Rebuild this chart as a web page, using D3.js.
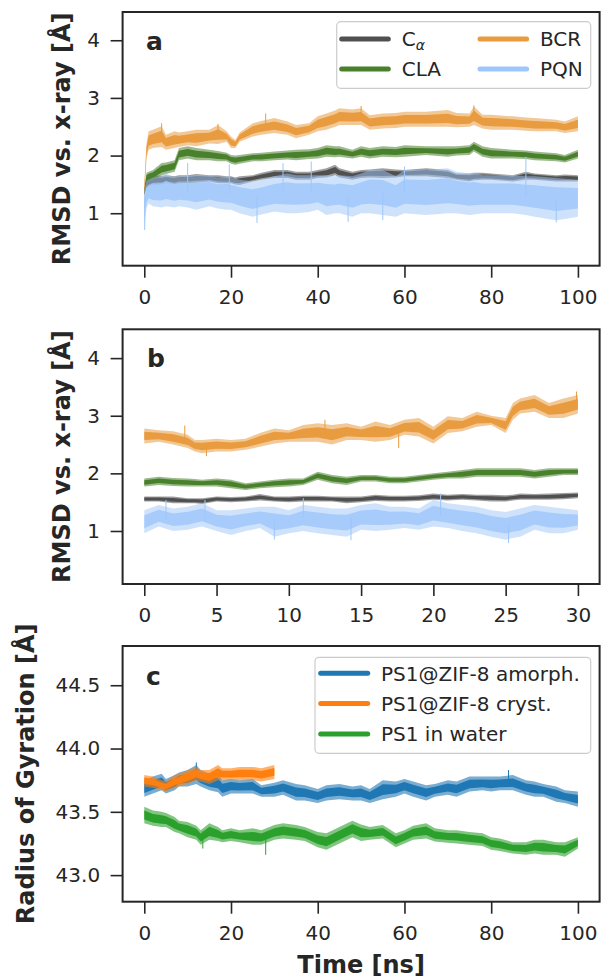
<!DOCTYPE html>
<html><head><meta charset="utf-8">
<script src="https://cdn.jsdelivr.net/npm/d3@7"></script>
<style>
html,body{margin:0;padding:0;background:#fff;}
svg{display:block;font-family:"DejaVu Sans",sans-serif;}
</style></head><body>
<script>
// ---------- Panel a data (0-100 ns) ----------
const timesA = [0,0.5,1,2,4,5,7,8,10,12,15,17,19,20,21,22,25,27,30,33,35,38,40,42,44,45,48,50,52,55,58,60,65,70,72,75,76,78,80,85,88,90,95,97,100];
const caLoA  = [1.30,1.43,1.46,1.49,1.50,1.52,1.50,1.52,1.52,1.53,1.55,1.52,1.52,1.52,1.50,1.49,1.55,1.58,1.61,1.61,1.58,1.58,1.61,1.62,1.66,1.62,1.58,1.61,1.62,1.61,1.62,1.64,1.64,1.61,1.58,1.55,1.57,1.58,1.58,1.55,1.58,1.58,1.55,1.55,1.55];
const caHiA  = [1.42,1.58,1.62,1.66,1.65,1.66,1.64,1.66,1.66,1.68,1.66,1.66,1.64,1.64,1.62,1.64,1.66,1.70,1.75,1.75,1.72,1.72,1.75,1.78,1.84,1.78,1.72,1.75,1.76,1.78,1.76,1.75,1.78,1.75,1.69,1.69,1.70,1.70,1.69,1.66,1.72,1.69,1.66,1.67,1.66];
const claLoA = [1.30,1.52,1.55,1.58,1.66,1.68,1.72,1.92,1.95,1.92,1.92,1.90,1.90,1.86,1.84,1.86,1.90,1.90,1.92,1.93,1.92,1.94,1.95,1.98,1.97,1.98,1.95,1.98,1.95,1.98,1.97,1.98,2.01,1.98,2.00,2.01,2.07,1.98,1.95,1.95,1.94,1.92,1.90,1.88,1.95];
const claHiA = [1.45,1.70,1.72,1.75,1.87,1.88,1.92,2.13,2.16,2.13,2.10,2.08,2.05,2.01,2.00,2.01,2.04,2.05,2.07,2.09,2.10,2.11,2.13,2.18,2.16,2.16,2.10,2.16,2.13,2.16,2.15,2.18,2.16,2.16,2.16,2.18,2.24,2.16,2.13,2.10,2.09,2.07,2.04,2.01,2.10];
const bcrLoA = [1.30,1.95,2.10,2.13,2.15,2.10,2.13,2.15,2.18,2.16,2.21,2.20,2.24,2.13,2.13,2.24,2.33,2.36,2.39,2.36,2.30,2.36,2.42,2.45,2.50,2.53,2.53,2.53,2.45,2.47,2.48,2.50,2.50,2.50,2.49,2.50,2.53,2.47,2.45,2.45,2.43,2.42,2.42,2.39,2.42];
const bcrHiA = [1.50,2.20,2.42,2.45,2.51,2.36,2.42,2.40,2.42,2.45,2.45,2.53,2.42,2.33,2.27,2.40,2.56,2.60,2.65,2.59,2.53,2.56,2.68,2.73,2.78,2.82,2.80,2.82,2.70,2.73,2.74,2.76,2.76,2.79,2.74,2.73,2.85,2.71,2.71,2.68,2.66,2.65,2.62,2.59,2.68];
const pqnLoA = [0.71,1.08,1.17,1.12,1.10,1.12,1.10,1.12,1.10,1.06,1.12,1.08,1.06,1.06,1.03,1.00,0.94,0.98,1.03,1.00,1.00,1.02,1.06,0.97,1.00,1.00,0.94,1.00,1.00,0.97,0.94,1.00,0.97,1.00,1.00,0.97,0.98,1.00,1.00,1.00,0.97,0.94,0.88,0.90,0.94];
const pqnHiA = [1.40,1.55,1.58,1.62,1.64,1.69,1.62,1.64,1.64,1.66,1.66,1.62,1.64,1.61,1.60,1.58,1.55,1.58,1.64,1.69,1.66,1.66,1.66,1.66,1.64,1.66,1.64,1.69,1.75,1.75,1.64,1.75,1.75,1.78,1.72,1.69,1.70,1.66,1.66,1.66,1.64,1.64,1.61,1.60,1.58];
const pqnSpikesA = [[0.1,0.71],[10,1.87],[19.6,1.85],[32,1.87],[38.5,1.90],[60,1.81],[88,1.98],[26,0.83],[55,0.88],[47,0.85],[95,0.84]];
const bcrSpikesA = [[4,2.56],[17,2.55],[28,2.73],[76,2.87],[50,2.86]];

// ---------- Panel b data (0-30 ns) ----------
const timesB = [0,1,2,3,3.5,4,5,6,7,8,9,10,11,12,13,14,15,16,17,18,19,20,21,22,23,24,25,25.5,26,27,28,29,30];
const caLoB  = [1.51,1.51,1.48,1.48,1.48,1.47,1.51,1.50,1.51,1.53,1.51,1.50,1.51,1.51,1.51,1.48,1.50,1.52,1.51,1.51,1.52,1.54,1.53,1.54,1.53,1.51,1.51,1.53,1.54,1.54,1.54,1.55,1.57];
const caHiB  = [1.60,1.60,1.60,1.57,1.57,1.57,1.60,1.59,1.60,1.64,1.60,1.60,1.61,1.61,1.60,1.60,1.60,1.63,1.61,1.61,1.62,1.65,1.63,1.64,1.63,1.63,1.62,1.63,1.65,1.64,1.65,1.66,1.67];
const claLoB = [1.77,1.80,1.78,1.77,1.77,1.77,1.77,1.74,1.71,1.74,1.76,1.77,1.80,1.89,1.83,1.80,1.86,1.86,1.83,1.83,1.86,1.89,1.91,1.91,1.94,1.94,1.94,1.94,1.94,1.91,1.94,1.97,1.97];
const claHiB = [1.91,1.94,1.92,1.91,1.90,1.89,1.91,1.89,1.83,1.86,1.89,1.91,1.91,2.03,1.97,1.94,1.97,1.97,1.94,1.94,1.97,2.00,2.03,2.06,2.09,2.09,2.09,2.09,2.09,2.06,2.09,2.09,2.09];
const bcrLoB = [2.52,2.55,2.50,2.44,2.38,2.35,2.38,2.38,2.41,2.46,2.52,2.55,2.55,2.55,2.50,2.58,2.58,2.55,2.58,2.67,2.64,2.52,2.70,2.73,2.81,2.84,2.70,2.93,3.04,3.07,2.96,2.96,3.04];
const bcrHiB = [2.78,2.75,2.73,2.67,2.58,2.58,2.60,2.58,2.60,2.70,2.78,2.75,2.84,2.87,2.84,2.87,2.81,2.90,2.84,2.93,2.96,2.81,2.99,2.96,3.07,3.00,2.96,3.22,3.30,3.36,3.22,3.30,3.36];
const pqnLoB = [0.96,1.08,1.00,1.02,1.05,1.08,1.00,0.93,1.00,1.05,0.90,0.96,1.00,0.96,0.93,0.90,1.02,1.00,1.02,1.05,1.02,1.08,1.05,1.00,0.96,0.90,0.85,0.88,0.90,1.02,0.96,0.96,1.02];
const pqnHiB = [1.36,1.45,1.39,1.42,1.45,1.48,1.36,1.36,1.39,1.42,1.42,1.36,1.45,1.42,1.39,1.39,1.45,1.48,1.42,1.42,1.39,1.54,1.48,1.45,1.42,1.36,1.33,1.36,1.39,1.45,1.42,1.39,1.36];
const pqnSpikesB = [[1.5,1.54],[4.2,1.54],[11,1.57],[20.5,1.65],[25.2,0.79],[14.3,0.84],[9,0.85]];
const bcrSpikesB = [[2.8,2.83],[12.5,2.93],[17.6,2.44],[29.9,3.42],[4.3,2.30]];

// ---------- Panel c data (0-100 ns) ----------
const timesC = [0,2,4,5,7,8,10,12,13,15,17,18,20,22,25,27,30,32,35,37,40,42,45,48,50,52,55,58,60,62,65,67,70,72,75,78,80,82,85,88,90,92,95,97,100];
const amoLoC = [43.62,43.645,43.67,43.645,43.67,43.70,43.70,43.72,43.70,43.67,43.655,43.62,43.645,43.645,43.645,43.62,43.62,43.635,43.59,43.59,43.57,43.59,43.60,43.59,43.59,43.57,43.60,43.62,43.645,43.62,43.59,43.62,43.635,43.62,43.66,43.67,43.66,43.67,43.67,43.635,43.62,43.62,43.58,43.57,43.54];
const amoHiC = [43.75,43.78,43.80,43.76,43.79,43.81,43.83,43.87,43.83,43.80,43.80,43.75,43.76,43.75,43.76,43.71,43.73,43.75,43.72,43.71,43.68,43.71,43.72,43.70,43.71,43.68,43.75,43.74,43.76,43.74,43.71,43.72,43.75,43.74,43.78,43.78,43.78,43.78,43.79,43.75,43.74,43.72,43.70,43.67,43.66];
const cryLoC = [43.70,43.69,43.67,43.66,43.69,43.70,43.72,43.75,43.74,43.72,43.75,43.75,43.75,43.75,43.75,43.74,43.76];
const cryHiC = [43.79,43.78,43.75,43.74,43.79,43.80,43.83,43.855,43.83,43.83,43.87,43.845,43.845,43.855,43.855,43.845,43.87];
const watLoC = [43.41,43.39,43.38,43.38,43.34,43.33,43.30,43.28,43.24,43.28,43.27,43.26,43.27,43.26,43.24,43.24,43.28,43.29,43.28,43.27,43.22,43.20,43.25,43.30,43.27,43.28,43.29,43.22,43.25,43.28,43.29,43.265,43.255,43.25,43.24,43.23,43.20,43.19,43.17,43.16,43.17,43.16,43.16,43.145,43.21];
const watHiC = [43.54,43.51,43.50,43.49,43.46,43.43,43.42,43.39,43.355,43.41,43.38,43.355,43.37,43.355,43.37,43.355,43.395,43.41,43.395,43.38,43.34,43.33,43.38,43.43,43.40,43.38,43.395,43.33,43.355,43.39,43.41,43.37,43.355,43.355,43.34,43.33,43.30,43.29,43.26,43.26,43.28,43.28,43.26,43.26,43.30];
const watSpikesC = [[28,43.16],[13.5,43.21]];
const amoSpikesC = [[84,43.83],[12,43.89]];

// ---------- tick labels / legends ----------
const xTicksA = [0,20,40,60,80,100];
const xTicksB = [0,5,10,15,20,25,30];
const yTicksAB = [1,2,3,4];
const yTicksC = [43.0,43.5,44.0,44.5];
const legendA = ["Cα","CLA","BCR","PQN"];
const legendC = ["PS1@ZIF-8 amorph.","PS1@ZIF-8 cryst.","PS1 in water"];

const col = {ca:"#505050", cla:"#48802b", bcr:"#e89b3f", pqn:"#9ec6fa",
             amo:"#1f77b4", cry:"#ff7f0e", wat:"#2ca02c"};
const ink = "#262626";

const W=601, H=978;
const svg = d3.select("body").append("svg").attr("width",W).attr("height",H);

const X0=122.6, X1=599.6;
const xA = d3.scaleLinear([-5,105],[X0,X1]);
const xB = d3.scaleLinear([-1.5,31.5],[X0,X1]);
const yA = d3.scaleLinear([0.09,4.49],[265.7,12]);
const yB = d3.scaleLinear([0.08,4.5],[584,329.3]);
const yC = d3.scaleLinear([42.79,44.81],[901.7,646]);

// outer envelope drawn light, inner core of the same envelope drawn dense
function band(g, x, y, times, lo, hi, color, opOut, opIn){
  const idx = lo.map((d,i)=>i);
  const outer = d3.area().x(i=>x(times[i])).y0(i=>y(lo[i])).y1(i=>y(hi[i]));
  const inner = d3.area().x(i=>x(times[i]))
    .y0(i=>y(lo[i]+0.22*(hi[i]-lo[i]))).y1(i=>y(hi[i]-0.22*(hi[i]-lo[i])));
  g.append("path").attr("d",outer(idx)).attr("fill",color).attr("fill-opacity",opOut);
  g.append("path").attr("d",inner(idx)).attr("fill",color).attr("fill-opacity",opIn);
}
function spikes(g, x, y, times, lo, hi, sp, color){
  sp.forEach(([t,v])=>{
    let i = Math.min(d3.bisectLeft(times,t), times.length-1);
    const mid = (lo[i]+hi[i])/2;
    g.append("line").attr("x1",x(t)).attr("x2",x(t)).attr("y1",y(mid)).attr("y2",y(v))
      .attr("stroke",color).attr("stroke-width",1);
  });
}
function axes(x, y, xt, yt, yfmt){
  const [r0,r1]=y.range();
  const gx = svg.append("g").attr("transform",`translate(0,${r0})`)
    .call(d3.axisBottom(x).tickValues(xt).tickSize(12).tickPadding(12).tickFormat(d3.format("d")));
  const gy = svg.append("g").attr("transform",`translate(${X0},0)`)
    .call(d3.axisLeft(y).tickValues(yt).tickSize(12).tickPadding(10.5).tickFormat(yfmt));
  [gx,gy].forEach(g=>{
    g.select(".domain").remove();
    g.selectAll("line").attr("stroke",ink).attr("stroke-width",1.6);
    g.selectAll("text").attr("fill",ink).style("font-size","20px").style("font-family","DejaVu Sans");
  });
  svg.append("rect").attr("x",X0).attr("y",r1).attr("width",X1-X0).attr("height",r0-r1)
    .attr("fill","none").attr("stroke",ink).attr("stroke-width",2);
}
function ylabel(text, xpos, y){
  const [r0,r1]=y.range();
  svg.append("text").attr("transform",`translate(${xpos},${(r0+r1)/2}) rotate(-90)`)
    .attr("text-anchor","middle").attr("fill",ink).style("font-size","24px").style("font-weight","bold")
    .text(text);
}
function letter(t, x, y){
  svg.append("text").attr("x",x).attr("y",y).attr("fill",ink).style("font-size","25px")
    .style("font-weight","bold").text(t);
}

// ---- Panel a ----
const gA = svg.append("g");
band(gA,xA,yA,timesA,caLoA,caHiA,col.ca,0.55,1);
band(gA,xA,yA,timesA,claLoA,claHiA,col.cla,0.55,1);
band(gA,xA,yA,timesA,bcrLoA,bcrHiA,col.bcr,0.55,1);
spikes(gA,xA,yA,timesA,bcrLoA,bcrHiA,bcrSpikesA,col.bcr);
band(gA,xA,yA,timesA,pqnLoA,pqnHiA,col.pqn,0.5,0.8);
spikes(gA,xA,yA,timesA,pqnLoA,pqnHiA,pqnSpikesA,col.pqn);
axes(xA,yA,xTicksA,yTicksAB,d3.format("d"));
ylabel("RMSD vs. x-ray [Å]",70,yA);
letter("a",146,49.5);

// ---- Panel b ----
const gB = svg.append("g");
band(gB,xB,yB,timesB,caLoB,caHiB,col.ca,0.55,1);
band(gB,xB,yB,timesB,claLoB,claHiB,col.cla,0.55,1);
band(gB,xB,yB,timesB,bcrLoB,bcrHiB,col.bcr,0.55,1);
spikes(gB,xB,yB,timesB,bcrLoB,bcrHiB,bcrSpikesB,col.bcr);
band(gB,xB,yB,timesB,pqnLoB,pqnHiB,col.pqn,0.5,0.8);
spikes(gB,xB,yB,timesB,pqnLoB,pqnHiB,pqnSpikesB,col.pqn);
axes(xB,yB,xTicksB,yTicksAB,d3.format("d"));
ylabel("RMSD vs. x-ray [Å]",70,yB);
letter("b",147,366.7);

// ---- Panel c ----
const gC = svg.append("g");
band(gC,xA,yC,timesC,amoLoC,amoHiC,col.amo,0.6,1);
spikes(gC,xA,yC,timesC,amoLoC,amoHiC,amoSpikesC,col.amo);
band(gC,xA,yC,timesC.slice(0,cryLoC.length),cryLoC,cryHiC,col.cry,0.6,1);
band(gC,xA,yC,timesC,watLoC,watHiC,col.wat,0.6,1);
spikes(gC,xA,yC,timesC,watLoC,watHiC,watSpikesC,col.wat);
axes(xA,yC,xTicksA,yTicksC,d3.format(".1f"));
ylabel("Radius of Gyration [Å]",33.5,yC);
letter("c",146,685);
svg.append("text").attr("x",(X0+X1)/2).attr("y",973).attr("text-anchor","middle")
  .attr("fill",ink).style("font-size","24px").style("font-weight","bold").text("Time [ns]");

// ---- Legends ----
function legendBox(x,y,w,h){
  svg.append("rect").attr("x",x).attr("y",y).attr("width",w).attr("height",h).attr("rx",4)
    .attr("fill","#fff").attr("fill-opacity",0.8).attr("stroke","#cccccc").attr("stroke-width",1.2);
}
legendBox(336.7,21.7,254,66.6);
const legA = [
  {lbl:legendA[0], c:col.ca,  x:341.7, y:39},
  {lbl:legendA[1], c:col.cla, x:341.7, y:69},
  {lbl:legendA[2], c:col.bcr, x:480,   y:39},
  {lbl:legendA[3], c:col.pqn, x:480,   y:69}];
legA.forEach(d=>{
  svg.append("line").attr("x1",d.x).attr("x2",d.x+46.6).attr("y1",d.y).attr("y2",d.y)
    .attr("stroke",d.c).attr("stroke-width",5).attr("stroke-linecap","round");
  const t = svg.append("text").attr("x",d.x+60).attr("y",d.y+7.3).attr("fill",ink).style("font-size","20px");
  if(d.lbl==="Cα"){
    t.append("tspan").text("C");
    t.append("tspan").attr("dy",4).style("font-size","14px").style("font-style","italic").text("α");
  } else t.text(d.lbl);
});

legendBox(315,657.3,275.7,96);
legendC.forEach((lbl,i)=>{
  const y = 673.3 + i*30.3;
  const c = [col.amo,col.cry,col.wat][i];
  svg.append("line").attr("x1",320.7).attr("x2",367.7).attr("y1",y).attr("y2",y)
    .attr("stroke",c).attr("stroke-width",5).attr("stroke-linecap","round");
  svg.append("text").attr("x",381).attr("y",y+7.3).attr("fill",ink).style("font-size","20px").text(lbl);
});
</script>
</body></html>
